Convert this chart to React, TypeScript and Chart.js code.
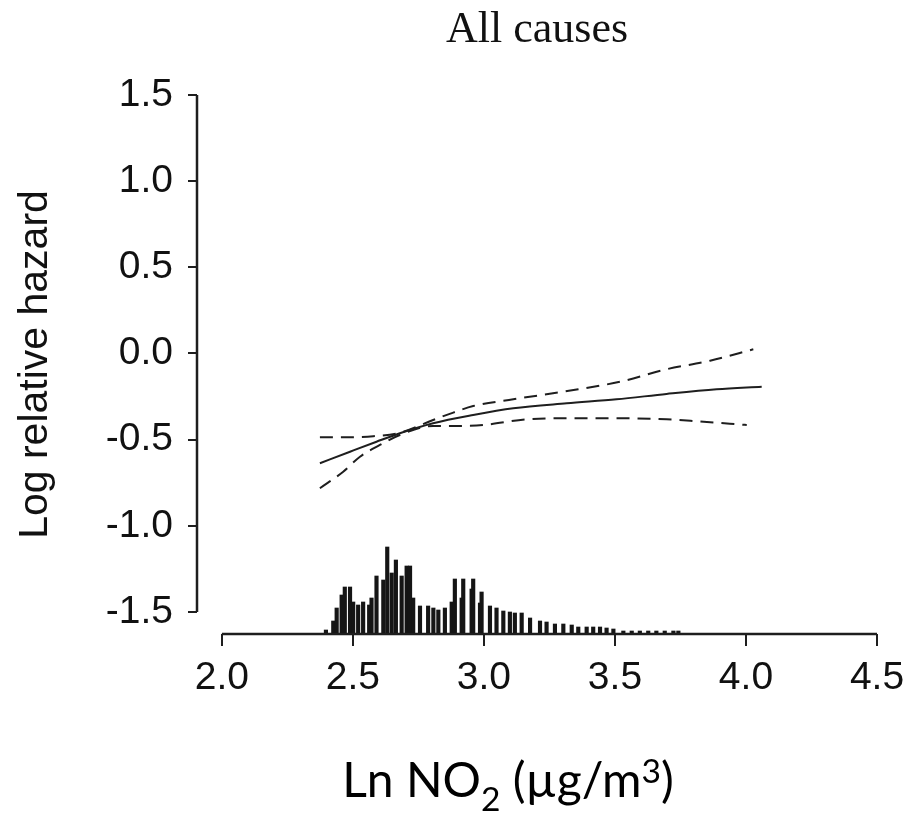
import React, { useEffect, useRef } from "react";
import { Chart, registerables } from "chart.js";

Chart.register(...registerables);

// ---- data ----
const xTickValues = [2.0, 2.5, 3.0, 3.5, 4.0, 4.5];
const yTickValues = [-1.5, -1.0, -0.5, 0.0, 0.5, 1.0, 1.5];

const fitX = [2.374, 2.489, 2.59, 2.679, 2.806, 2.959, 3.112, 3.316, 3.506, 3.697, 3.888, 4.06];
const fitY = [-0.637, -0.57, -0.512, -0.463, -0.405, -0.357, -0.318, -0.289, -0.266, -0.235, -0.208, -0.193];

const upperX = [2.374, 2.489, 2.578, 2.679, 2.806, 2.883, 2.959, 3.112, 3.36, 3.538, 3.684, 3.863, 4.028];
const upperY = [-0.486, -0.486, -0.48, -0.46, -0.386, -0.343, -0.305, -0.266, -0.208, -0.158, -0.096, -0.042, 0.024];

const lowerX = [2.374, 2.463, 2.527, 2.603, 2.679, 2.806, 2.896, 2.997, 3.163, 3.316, 3.506, 3.697, 3.824, 4.003];
const lowerY = [-0.782, -0.686, -0.599, -0.531, -0.473, -0.421, -0.421, -0.415, -0.382, -0.376, -0.376, -0.382, -0.395, -0.415];

const histX = [2.397, 2.425, 2.438, 2.457, 2.469, 2.489, 2.501, 2.52, 2.539, 2.562, 2.571, 2.59, 2.616, 2.631, 2.648, 2.664, 2.686, 2.705, 2.718, 2.73, 2.756, 2.787, 2.807, 2.826, 2.851, 2.877, 2.889, 2.915, 2.921, 2.953, 2.959, 2.985, 2.991, 3.023, 3.048, 3.074, 3.099, 3.118, 3.144, 3.176, 3.214, 3.239, 3.271, 3.303, 3.335, 3.36, 3.392, 3.417, 3.443, 3.468, 3.494, 3.532, 3.564, 3.595, 3.627, 3.658, 3.69, 3.723, 3.742];
const histCount = [4, 13, 26, 39, 47, 47, 32, 29, 32, 29, 36, 58, 54, 87, 61, 74, 58, 68, 68, 36, 28, 28, 26, 24, 26, 32, 55, 36, 55, 45, 55, 31, 42, 28, 26, 23, 22, 21, 21, 16, 13, 12, 10, 10, 9, 7, 7, 7, 7, 6, 5, 3, 3, 3, 3, 3, 3, 3, 3];

const titleText = "All causes";
const yTitleText = "Log relative hazard";
const xTitleParts = [
  { t: "Ln NO", s: 1, dy: 0 },
  { t: "2", s: 0.7, dy: 0.3 },
  { t: " (µg/m", s: 1, dy: 0 },
  { t: "3", s: 0.7, dy: -0.3 },
  { t: ")", s: 1, dy: 0 },
];

// ---- styles ----
const INK = "#1e1e1e";
const tickFont = "'Liberation Sans', Arial, sans-serif";

const toPoints = (xs: number[], ys: number[]) => xs.map((x, i) => ({ x, y: ys[i] }));

const axisPlugin = {
  id: "axisLines",
  afterDraw(chart: any) {
    const { ctx, chartArea } = chart;
    const xs = chart.scales.x;
    const ys = chart.scales.y;
    ctx.save();
    ctx.strokeStyle = INK;
    ctx.lineWidth = 2.5;
    ctx.beginPath();
    ctx.moveTo(chartArea.left, ys.getPixelForValue(yTickValues[yTickValues.length - 1]));
    ctx.lineTo(chartArea.left, ys.getPixelForValue(yTickValues[0]));
    ctx.moveTo(xs.getPixelForValue(xTickValues[0]), chartArea.bottom);
    ctx.lineTo(xs.getPixelForValue(xTickValues[xTickValues.length - 1]), chartArea.bottom);
    ctx.stroke();

    // x-axis title with subscript / superscript
    const size = 48;
    const fam = "Lato, 'Open Sans', sans-serif";
    let total = 0;
    for (const p of xTitleParts) {
      ctx.font = `${size * p.s}px ${fam}`;
      total += ctx.measureText(p.t).width;
    }
    let cx = 508 - total / 2;
    const baseY = 797;
    ctx.fillStyle = "#000";
    ctx.textBaseline = "alphabetic";
    ctx.textAlign = "left";
    for (const p of xTitleParts) {
      ctx.font = `${size * p.s}px ${fam}`;
      ctx.fillText(p.t, cx, baseY + p.dy * size);
      cx += ctx.measureText(p.t).width;
    }
    ctx.restore();
  },
};

export default function App() {
  const ref = useRef<HTMLCanvasElement | null>(null);

  useEffect(() => {
    if (!ref.current) return;
    const chart = new Chart(ref.current, {
      type: "line",
      data: {
        datasets: [
          {
            type: "line",
            data: toPoints(fitX, fitY),
            yAxisID: "y",
            borderColor: INK,
            borderWidth: 2,
            pointRadius: 0,
            cubicInterpolationMode: "monotone",
            fill: false,
          },
          {
            type: "line",
            data: toPoints(upperX, upperY),
            yAxisID: "y",
            borderColor: INK,
            borderWidth: 2,
            borderDash: [13, 8],
            pointRadius: 0,
            cubicInterpolationMode: "monotone",
            fill: false,
          },
          {
            type: "line",
            data: toPoints(lowerX, lowerY),
            yAxisID: "y",
            borderColor: INK,
            borderWidth: 2,
            borderDash: [13, 8],
            pointRadius: 0,
            cubicInterpolationMode: "monotone",
            fill: false,
          },
          {
            type: "bar",
            data: toPoints(histX, histCount) as any,
            yAxisID: "y2",
            backgroundColor: "#151515",
            borderWidth: 0,
            barThickness: 3.5,
          } as any,
        ],
      },
      options: {
        responsive: false,
        animation: false,
        events: [],
        layout: { padding: { left: 0, right: 28, top: 0, bottom: 0 } },
        plugins: {
          legend: { display: false },
          tooltip: { enabled: false },
          title: {
            display: true,
            text: titleText,
            fullSize: false,
            color: "#111",
            font: { family: "'Liberation Serif', 'Times New Roman', serif", size: 44, weight: "normal", lineHeight: 1.2 },
            padding: { top: 4, bottom: 38.2 },
          },
        },
        scales: {
          x: {
            type: "linear",
            offset: false,
            min: 1.905,
            max: 4.5,
            afterBuildTicks: (s: any) => {
              s.ticks = xTickValues.map((v) => ({ value: v }));
            },
            afterFit: (s: any) => {
              s.height = 179;
              s.paddingLeft = 0;
              s.paddingRight = 0;
            },
            border: { display: false },
            grid: { offset: false, drawOnChartArea: false, drawTicks: true, tickLength: 12, color: INK, lineWidth: 2 },
            ticks: {
              autoSkip: false,
              maxRotation: 0,
              padding: 13,
              color: "#111",
              font: { family: tickFont, size: 39, lineHeight: 1 },
              callback: (v: any) => Number(v).toFixed(1),
            },
          },
          y: {
            type: "linear",
            min: -1.628,
            max: 1.5,
            afterBuildTicks: (s: any) => {
              s.ticks = yTickValues.map((v) => ({ value: v }));
            },
            afterFit: (s: any) => {
              s.width = 197;
              s.paddingTop = 0;
              s.paddingBottom = 0;
            },
            border: { display: false },
            grid: { drawOnChartArea: false, drawTicks: true, tickLength: 9, color: INK, lineWidth: 2 },
            ticks: {
              autoSkip: false,
              padding: 15,
              color: "#111",
              font: { family: tickFont, size: 39, lineHeight: 1 },
              callback: (v: any) => Number(v).toFixed(1),
            },
            title: {
              display: true,
              text: yTitleText,
              color: "#111",
              font: { family: "'Liberation Sans', Arial, sans-serif", size: 41, lineHeight: 1 },
              padding: { top: 15, bottom: 0 },
            },
          },
          y2: {
            type: "linear",
            display: false,
            min: 0,
            max: 539,
          },
        },
      },
      plugins: [axisPlugin],
    } as any);
    return () => chart.destroy();
  }, []);

  return (
    <div style={{ position: "absolute", left: 0, top: 0, width: 905, height: 813, background: "#fff" }}>
      <canvas ref={ref} width={905} height={813} style={{ width: 905, height: 813, display: "block" }} />
    </div>
  );
}
